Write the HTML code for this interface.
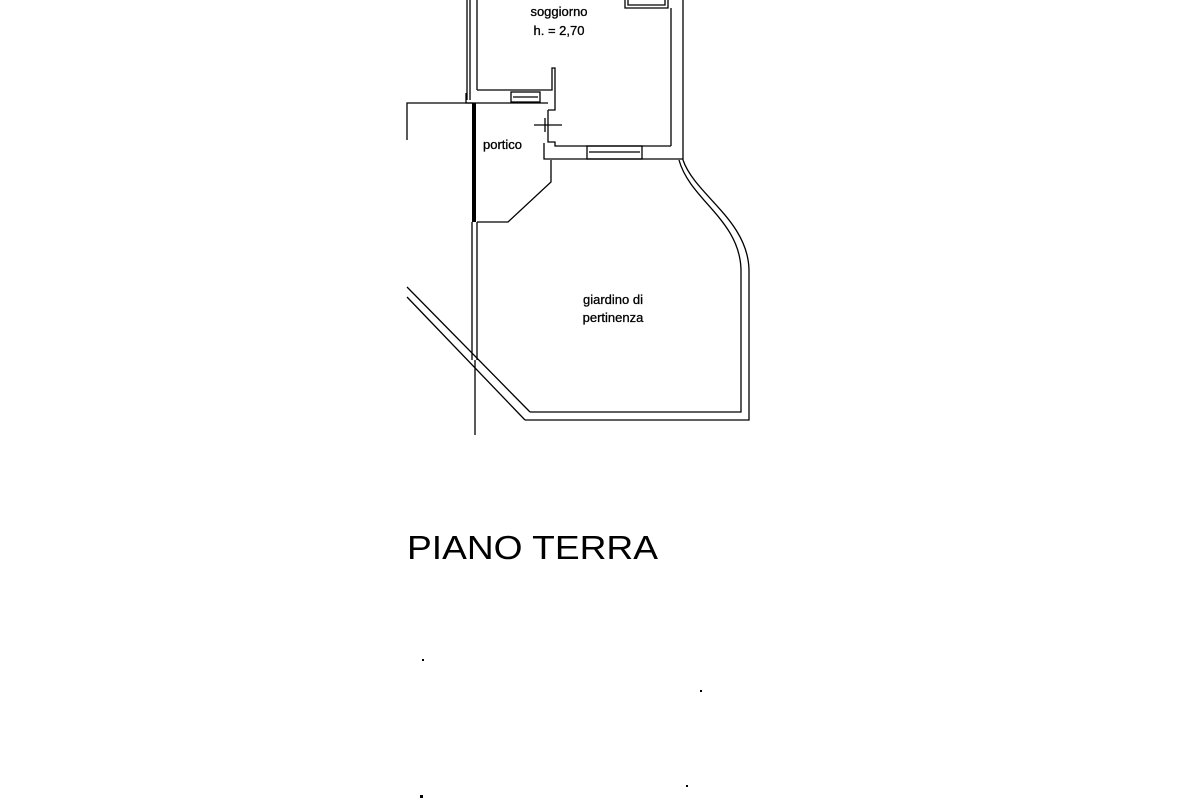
<!DOCTYPE html>
<html><head><style>
body{margin:0;background:#fff;width:1200px;height:800px;overflow:hidden}
svg{display:block}
text{font-family:"Liberation Sans",sans-serif;fill:#000}
.l{stroke:#000;stroke-width:0.3}
</style></head><body>
<svg width="1200" height="800" viewBox="0 0 1200 800">
<g fill="none" stroke="#000" stroke-width="1.3">
<line x1="467" y1="0" x2="467" y2="100"/>
<line x1="470" y1="0" x2="470" y2="100"/>
<line x1="477" y1="0" x2="477" y2="90"/>
<path d="M477 90 H552 V68 H555 V110 H548"/>
<path d="M466 93 V103 H548"/>
<rect x="511" y="92" width="29" height="10"/>
<line x1="513" y1="97" x2="538" y2="97"/>
<line x1="671" y1="8" x2="671" y2="146"/>
<line x1="683" y1="0" x2="683" y2="160"/>
<path d="M548 110 V142 H555 V146 H671"/>
<path d="M544 143 V159 H683"/>
<rect x="587" y="146" width="55" height="13"/>
<line x1="589" y1="152" x2="640" y2="152"/>
<path d="M625 0 V8 H668 V0"/>
<path d="M628 0 V5 H665 V0"/>
<line x1="534" y1="125" x2="562" y2="125"/>
<line x1="545" y1="118" x2="545" y2="132"/>
<path d="M407 140 V103 H473"/>
<path d="M551 160 V182 L508 222 H477"/>
<path d="M679 160 C690 200 740 220 741 270 V412 H530"/>
<path d="M683 160 C695 195 748 220 749 270 V420 H525"/>
<path d="M530 412 L407 287"/>
<path d="M525 420 L407 297"/>
<line x1="472" y1="222" x2="472" y2="360"/>
<line x1="477" y1="222" x2="477" y2="360"/>
<line x1="475" y1="360" x2="475" y2="435"/>
</g>
<rect x="472" y="103" width="4" height="119" fill="#000"/>
<text class="l" x="559" y="16" font-size="13" text-anchor="middle">soggiorno</text>
<text class="l" x="559" y="35" font-size="13" text-anchor="middle">h. = 2,70</text>
<text class="l" x="483" y="149" font-size="13">portico</text>
<text class="l" x="613" y="304" font-size="13" text-anchor="middle">giardino di</text>
<text class="l" x="613" y="322" font-size="13" text-anchor="middle">pertinenza</text>
<text x="407" y="559" font-size="33" textLength="251" lengthAdjust="spacingAndGlyphs">PIANO TERRA</text>
<g fill="#000"><rect x="422" y="659" width="2" height="2"/><rect x="700" y="690" width="2" height="2"/><rect x="686" y="785" width="2" height="2"/><rect x="420" y="795" width="3" height="3"/></g>
</svg>
</body></html>
